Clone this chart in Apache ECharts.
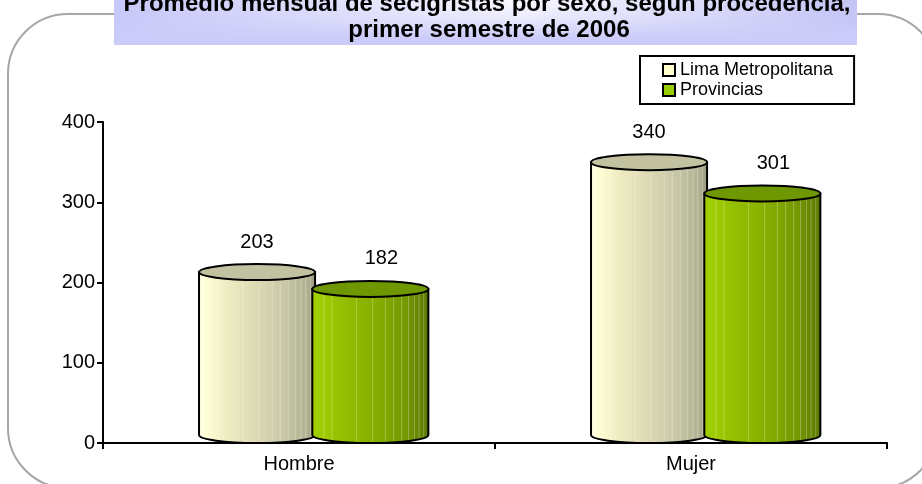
<!DOCTYPE html>
<html>
<head>
<meta charset="utf-8">
<script src="https://cdn.jsdelivr.net/npm/echarts@6/dist/echarts.min.js"></script>
<style>
  html, body { margin: 0; padding: 0; background: #fff; }
  #chart { width: 922px; height: 484px; }
</style>
</head>
<body>
<div id="chart"></div>
<script>
// chart data
var categories = ["Hombre", "Mujer"];
var seriesNames = ["Lima Metropolitana", "Provincias"];
var limaValues = [203, 340];
var provValues = [182, 301];
var titleLines = [
  "Promedio mensual de secigristas por sexo, según procedencia,",
  "primer semestre de 2006"
];

var FONT = "'Liberation Sans', Arial, sans-serif";

function stripes(stops) {
  // horizontal gradient for the cylinder body
  return {
    type: "linear", x: 0, y: 0, x2: 1, y2: 0,
    colorStops: stops.map(function (s) { return { offset: s[0], color: s[1] }; })
  };
}

var limaLook = {
  body: stripes([[0, "#fffff0"], [0.06, "#ffffd6"], [0.25, "#eeecc2"], [0.5, "#dcd9b4"], [0.75, "#c6c5a4"], [0.92, "#b2b292"], [1, "#9a9a7c"]]),
  top: "#c2c2a0"
};
var provLook = {
  body: stripes([[0, "#a2d000"], [0.08, "#9fcc00"], [0.3, "#92bc00"], [0.55, "#86ae00"], [0.8, "#749800"], [1, "#5a7600"]]),
  top: "#6e9700"
};

var lineFracs = [0.1, 0.17, 0.38, 0.52, 0.63, 0.7, 0.77, 0.83, 0.88, 0.92, 0.96];

function cylinder(leftFrac, look, labelShift) {
  return function (params, api) {
    var idx = api.value(0);
    var val = api.value(1);
    var top = api.coord([idx, val]);
    var base = api.coord([idx, 0]);
    var band = api.size([1, 0])[0];
    var w = band * 0.296;
    var x0 = base[0] + band * leftFrac;
    var x1 = x0 + w;
    var rx = w / 2, ry = 8, cx = x0 + rx;
    var yT = top[1] - ry, yB = base[1] - ry;

    var kids = [{
      type: "path",
      shape: {
        pathData: "M" + x0 + " " + yT + " L" + x0 + " " + yB +
          " A" + rx + " " + ry + " 0 0 0 " + x1 + " " + yB +
          " L" + x1 + " " + yT + " Z"
      },
      style: { fill: look.body, stroke: "#000", lineWidth: 2 }
    }];
    lineFracs.forEach(function (f) {
      var lx = x0 + w * f;
      var t = (lx - cx) / rx;
      kids.push({
        type: "line",
        shape: { x1: lx, y1: yT, x2: lx, y2: yB + ry * Math.sqrt(Math.max(0, 1 - t * t)) - 1 },
        style: { stroke: "rgba(255,255,255,0.28)", lineWidth: 1 }
      });
    });
    kids.push({
      type: "ellipse",
      shape: { cx: cx, cy: yT, rx: rx, ry: ry },
      style: { fill: look.top, stroke: "#000", lineWidth: 2 }
    });
    kids.push({
      type: "text",
      style: {
        text: String(val), x: cx + labelShift, y: yT - 30,
        align: "center", verticalAlign: "middle",
        fill: "#000", font: "20px " + FONT
      }
    });
    return { type: "group", children: kids };
  };
}

var chart = echarts.init(document.getElementById("chart"));
var option = {
  animation: false,
  backgroundColor: "#fff",
  graphic: [
    {
      type: "rect", z: 0,
      shape: { x: 8, y: 14, width: 930, height: 474, r: 60 },
      style: { fill: "none", stroke: "#a6a6a6", lineWidth: 2 }
    },
    {
      type: "rect", z: 1,
      shape: { x: 114, y: -2, width: 743, height: 47 },
      style: {
        fill: { type: "linear", x: 0, y: 0, x2: 1, y2: 0,
          colorStops: [{ offset: 0, color: "#c6c6f8" }, { offset: 0.55, color: "#fbfbff" }, { offset: 1, color: "#c2c2f4" }] }
      }
    },
    {
      type: "rect", z: 1,
      shape: { x: 114, y: -2, width: 743, height: 47 },
      style: {
        fill: { type: "linear", x: 0, y: 0, x2: 0, y2: 1,
          colorStops: [{ offset: 0, color: "rgba(204,204,250,0)" }, { offset: 0.45, color: "rgba(204,204,250,0.35)" }, { offset: 0.85, color: "rgba(204,204,250,1)" }, { offset: 1, color: "rgba(204,204,250,1)" }] }
      }
    },
    {
      type: "text", z: 2,
      style: { text: titleLines[0], x: 487, y: 16, align: "center", verticalAlign: "bottom", fill: "#000", font: "bold 24px " + FONT }
    },
    {
      type: "text", z: 2,
      style: { text: titleLines[1], x: 489, y: 42, align: "center", verticalAlign: "bottom", fill: "#000", font: "bold 24px " + FONT }
    }
  ],
  legend: {
    orient: "vertical",
    left: 640, top: 56,
    padding: [4, 21, 4, 22],
    itemWidth: 12, itemHeight: 12, itemGap: 0, itemTextGap: 13,
    borderColor: "#000", borderWidth: 2, borderRadius: 0,
    backgroundColor: "#fff",
    itemStyle: { borderColor: "#000", borderWidth: 2 },
    textStyle: { color: "#000", fontSize: 18, fontFamily: FONT, lineHeight: 20 },
    data: [
      { name: seriesNames[0], icon: "rect" },
      { name: seriesNames[1], icon: "rect" }
    ]
  },
  grid: { left: 103, right: 35, top: 122, bottom: 41, containLabel: false },
  xAxis: {
    type: "category",
    data: categories,
    axisLine: { lineStyle: { color: "#000", width: 2 } },
    axisTick: { show: true, length: 6, lineStyle: { color: "#000", width: 2 } },
    axisLabel: { color: "#000", fontSize: 20, fontFamily: FONT, margin: 11 },
    splitLine: { show: false }
  },
  yAxis: {
    type: "value",
    min: 0, max: 400, interval: 100,
    axisLine: { show: true, lineStyle: { color: "#000", width: 2 } },
    axisTick: { show: true, length: 6, lineStyle: { color: "#000", width: 2 } },
    axisLabel: { color: "#000", fontSize: 20, fontFamily: FONT, margin: 8 },
    splitLine: { show: false }
  },
  series: [
    {
      name: seriesNames[0],
      type: "custom",
      renderItem: cylinder(-0.255, limaLook, 0),
      itemStyle: { color: "#ffffcc" },
      encode: { x: 0, y: 1 },
      data: limaValues.map(function (v, i) { return [i, v]; })
    },
    {
      name: seriesNames[1],
      type: "custom",
      renderItem: cylinder(0.034, provLook, 11),
      itemStyle: { color: "#99cc00" },
      encode: { x: 0, y: 1 },
      data: provValues.map(function (v, i) { return [i, v]; })
    }
  ]
};
chart.setOption(option);
</script>
</body>
</html>
